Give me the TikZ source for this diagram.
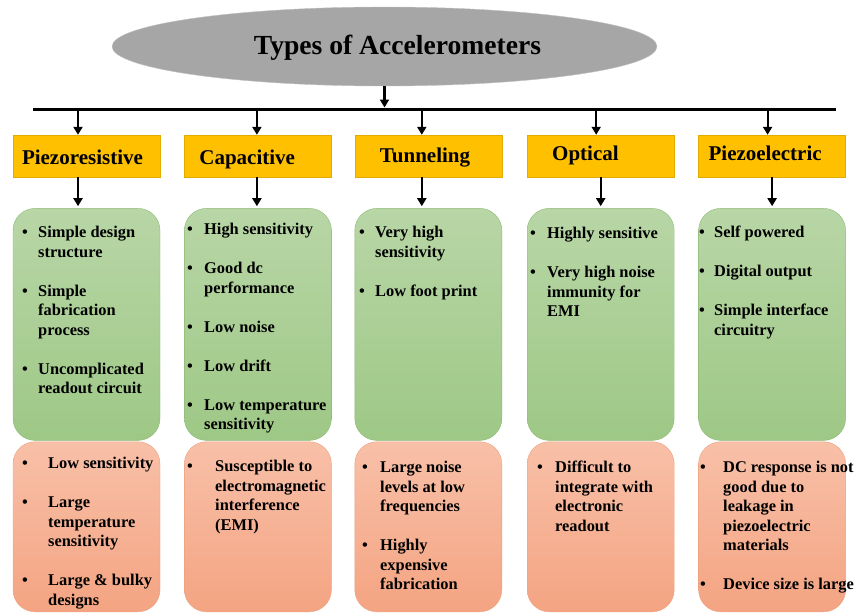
\documentclass[tikz,border=0pt]{standalone}
\usepackage{fontspec}
\setmainfont{Liberation Serif}[BoldFont={Liberation Serif Bold}]
\usepackage{xcolor}
\definecolor{titleGray}{HTML}{A6A6A6}
\definecolor{titleEdge}{HTML}{BFBFBF}
\definecolor{headGold}{HTML}{FFC000}
\definecolor{headEdge}{HTML}{E3AA00}
\definecolor{prosTop}{RGB}{184,214,166}
\definecolor{prosBot}{RGB}{158,200,134}
\definecolor{prosEdge}{RGB}{140,185,115}
\definecolor{consTop}{RGB}{248,192,168}
\definecolor{consBot}{RGB}{244,164,130}
\definecolor{consEdge}{RGB}{236,160,125}
\usepackage{tikz}
\usetikzlibrary{shapes.geometric,arrows.meta,positioning,calc}
\tikzset{%
  titleEllipse/.style={%
    ellipse,
    draw=titleEdge,
    fill=titleGray,
    minimum width=545pt,
    minimum height=79pt,
    inner sep=0pt
  },
  busLine/.style={%
    line width=3pt,
    color=black
  },
  downArrow/.style={%
    -{Triangle[length=8pt,width=9pt]},
    line width=2.2pt,
    color=black
  },
  headBox/.style={%
    rectangle,
    draw=headEdge,
    fill=headGold,
    minimum width=147pt,
    minimum height=42pt,
    align=left,
    text depth=1pt,
    text height=#1,
    font=\fontsize{21}{24}\selectfont\bfseries
  },
  headBox/.default=17pt,
  prosBox/.style={%
    rectangle,
    rounded corners=22pt,
    draw=prosEdge,
    top color=prosTop,
    bottom color=prosBot,
    minimum width=147pt,
    minimum height=232pt
  },
  consBox/.style={%
    rectangle,
    rounded corners=22pt,
    draw=consEdge,
    top color=consTop,
    bottom color=consBot,
    minimum width=147pt,
    minimum height=170pt
  },
  listText/.style={%
    anchor=base west,
    inner sep=0pt,
    font=\fontsize{16.4}{19.5}\selectfont\bfseries
  }
}
% bullet column width, then the rows
\newcommand{\bulletlist}[2]{\begin{tabular}[t]{@{}p{#1}@{}l@{}}#2\end{tabular}}
\newcommand{\nextitem}{\\[19.5pt]}

\begin{document}
\begin{tikzpicture}[x=1pt,y=-1pt]
  \useasboundingbox (0,0) rectangle (854,613);

  % title and bus
  \node[titleEllipse, label={[font=\fontsize{27.6}{30}\selectfont\bfseries, xshift=13pt, yshift=-1.5pt]center:Types of Accelerometers}] (title) at (384.5,46.5) {};
  \coordinate (busL) at (33,109);
  \coordinate (busR) at (836,109);
  \draw[busLine] (busL) -- (busR);
  \draw[downArrow] (title.south) -- ($(title.south |- busL)+(0,-1.5)$);

  % headers
  \node[headBox, inner xsep=9pt, text width=129pt] (hPiezoR) at (86.5,156) {Piezoresistive};
  \node[headBox, inner xsep=15pt, text width=117pt, right=24pt of hPiezoR] (hCapac) {Capacitive};
  \node[headBox=13pt, inner xsep=25pt, text width=97pt, right=23pt of hCapac] (hTunnel) {Tunneling};
  \node[headBox=9pt, inner xsep=25pt, text width=97pt, right=25pt of hTunnel] (hOptic) {Optical};
  \node[headBox=9pt, inner xsep=10pt, text width=127pt, right=24pt of hOptic] (hPiezoE) {Piezoelectric};

  % advantages / drawbacks
  \node[prosBox, below=31pt of hPiezoR] (prosPiezoR) {};
  \node[prosBox, below=31pt of hCapac] (prosCapac) {};
  \node[prosBox, below=31pt of hTunnel] (prosTunnel) {};
  \node[prosBox, below=31pt of hOptic] (prosOptic) {};
  \node[prosBox, below=31pt of hPiezoE] (prosPiezoE) {};
  \node[consBox, below=1pt of prosPiezoR] (consPiezoR) {};
  \node[consBox, below=1pt of prosCapac] (consCapac) {};
  \node[consBox, below=1pt of prosTunnel] (consTunnel) {};
  \node[consBox, below=1pt of prosOptic] (consOptic) {};
  \node[consBox, below=1pt of prosPiezoE] (consPiezoE) {};

  % arrows
  \draw[downArrow] ($(hPiezoR.north |- busL)+(-8.5,0)$) -- ($(hPiezoR.north)+(-8.5,0)$);
  \draw[downArrow] ($(hCapac.north |- busL)+(-1,0)$) -- ($(hCapac.north)+(-1,0)$);
  \draw[downArrow] ($(hTunnel.north |- busL)+(-6.5,0)$) -- ($(hTunnel.north)+(-6.5,0)$);
  \draw[downArrow] ($(hOptic.north |- busL)+(-4.5,0)$) -- ($(hOptic.north)+(-4.5,0)$);
  \draw[downArrow] ($(hPiezoE.north |- busL)+(-4.5,0)$) -- ($(hPiezoE.north)+(-4.5,0)$);
  \draw[downArrow] ($(hPiezoR.south)+(-8.5,0)$) -- ($(prosPiezoR.north)+(-8.5,-2)$);
  \draw[downArrow] ($(hCapac.south)+(-1,0)$) -- ($(prosCapac.north)+(-1,-2)$);
  \draw[downArrow] ($(hTunnel.south)+(-6.5,0)$) -- ($(prosTunnel.north)+(-6.5,-2)$);
  \draw[downArrow] (hOptic.south) -- ($(prosOptic.north)+(0,-2)$);
  \draw[downArrow] (hPiezoE.south) -- ($(prosPiezoE.north)+(0,-2)$);

  % lists
  \node[listText] (pListPiezoR) at (22,237.5) {\bulletlist{16pt}{\textbullet & Simple design\\ & structure\nextitem
    \textbullet & Simple\\ & fabrication\\ & process\nextitem
    \textbullet & Uncomplicated\\ & readout circuit}};
  \node[listText] (pListCapac) at (187,234.5) {\bulletlist{17pt}{\textbullet & High sensitivity\nextitem
    \textbullet & Good dc\\ & performance\nextitem
    \textbullet & Low noise\nextitem
    \textbullet & Low drift\nextitem
    \textbullet & Low temperature\\ & sensitivity}};
  \node[listText] (pListTunnel) at (359,237.5) {\bulletlist{16pt}{\textbullet & Very high\\ & sensitivity\nextitem
    \textbullet & Low foot print}};
  \node[listText] (pListOptic) at (530,238.5) {\bulletlist{17pt}{\textbullet & Highly sensitive\nextitem
    \textbullet & Very high noise\\ & immunity for\\ & EMI}};
  \node[listText] (pListPiezoE) at (699,237.5) {\bulletlist{15pt}{\textbullet & Self powered\nextitem
    \textbullet & Digital output\nextitem
    \textbullet & Simple interface\\ & circuitry}};

  \node[listText] (cListPiezoR) at (22,468.5) {\bulletlist{26pt}{\textbullet & Low sensitivity\nextitem
    \textbullet & Large\\ & temperature\\ & sensitivity\nextitem
    \textbullet & Large \& bulky\\ & designs}};
  \node[listText] (cListCapac) at (187,471.5) {\bulletlist{28pt}{\textbullet & Susceptible to\\ & electromagnetic\\ & interference\\ & (EMI)}};
  \node[listText] (cListTunnel) at (362,472.5) {\bulletlist{18pt}{\textbullet & Large noise\\ & levels at low\\ & frequencies\nextitem
    \textbullet & Highly\\ & expensive\\ & fabrication}};
  \node[listText] (cListOptic) at (537,472.5) {\bulletlist{18pt}{\textbullet & Difficult to\\ & integrate with\\ & electronic\\ & readout}};
  \node[listText] (cListPiezoE) at (700,472.5) {\bulletlist{23pt}{\textbullet & DC response is not\\ & good due to\\ & leakage in\\ & piezoelectric\\ & materials\nextitem
    \textbullet & Device size is large}};
\end{tikzpicture}
\end{document}
